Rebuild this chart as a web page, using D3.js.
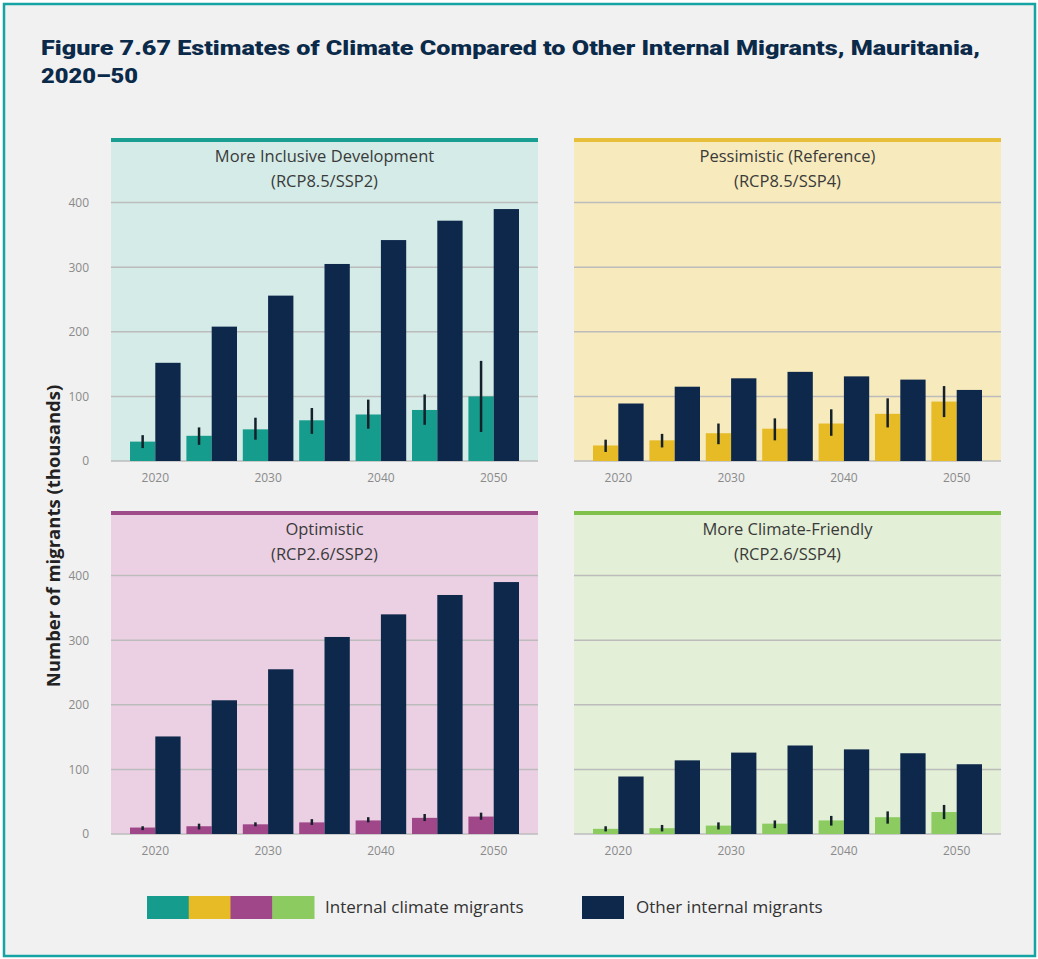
<!DOCTYPE html>
<html><head><meta charset="utf-8">
<script src="https://cdn.jsdelivr.net/npm/d3@7"></script>
<style>
html,body{margin:0;padding:0;background:#fff;}
svg{display:block;}
</style></head>
<body>
<svg id="chart" width="1038" height="959"></svg>
<script>
// ---------------- DATA ----------------
const years = [2020, 2025, 2030, 2035, 2040, 2045, 2050];
const xTickYears = [2020, 2030, 2040, 2050];
const yTicks = [0, 100, 200, 300, 400];

const panelTitles = [
  ["More Inclusive Development", "(RCP8.5/SSP2)"],
  ["Pessimistic (Reference)", "(RCP8.5/SSP4)"],
  ["Optimistic", "(RCP2.6/SSP2)"],
  ["More Climate-Friendly", "(RCP2.6/SSP4)"]
];

// Internal climate migrants (thousands), with error ranges
const climate1 = [30, 39, 49, 63, 72, 79, 100];
const climate1Low = [20, 25, 33, 42, 50, 56, 45];
const climate1High = [40, 52, 67, 82, 95, 103, 155];
const other1 = [152, 208, 256, 305, 342, 372, 390];

const climate2 = [24, 32, 43, 50, 58, 73, 92];
const climate2Low = [14, 21, 26, 32, 39, 52, 68];
const climate2High = [33, 42, 58, 66, 80, 97, 116];
const other2 = [89, 115, 128, 138, 131, 126, 110];

const climate3 = [10, 12, 15, 18, 21, 25, 27];
const climate3Low = [6, 7, 12, 14, 18, 20, 22];
const climate3High = [12, 16, 18, 23, 26, 31, 33];
const other3 = [151, 207, 255, 305, 340, 370, 390];

const climate4 = [8, 9, 13, 16, 21, 26, 34];
const climate4Low = [4, 4, 7, 9, 13, 16, 23];
const climate4High = [12, 14, 18, 21, 28, 35, 45];
const other4 = [89, 114, 126, 137, 131, 125, 108];

const legendLabels = ["Internal climate migrants", "Other internal migrants"];

// ---------------- STYLE ----------------
const climateColors = ["#169c8c", "#e6bb26", "#a0478a", "#8ccb60"];
const bgColors = ["#d4ebe7", "#f7eabd", "#ebd0e3", "#e3efd6"];
const topBarColors = ["#1a9e91", "#e8bf3a", "#9f4a89", "#7fc14b"];
const navy = "#0d284b";

const panels = [
  {L: 111, T: 138, climate: climate1, low: climate1Low, high: climate1High, other: other1, yLabels: true},
  {L: 574, T: 138, climate: climate2, low: climate2Low, high: climate2High, other: other2, yLabels: false},
  {L: 111, T: 511, climate: climate3, low: climate3Low, high: climate3High, other: other3, yLabels: true},
  {L: 574, T: 511, climate: climate4, low: climate4Low, high: climate4High, other: other4, yLabels: false}
];
const W = 427, H = 323;
const font = "'Open Sans', 'Noto Sans', sans-serif";

const svg = d3.select("#chart");

// Frame
svg.append("rect").attr("x", 0).attr("y", 0).attr("width", 1038).attr("height", 959).attr("fill", "#ffffff");
svg.append("rect").attr("x", 4).attr("y", 4).attr("width", 1031).attr("height", 952)
  .attr("fill", "#f1f1f1").attr("stroke", "#16a3a3").attr("stroke-width", 2.5);

// Title
const title = svg.append("g").attr("fill", "#0b2a4a")
  .style("font-family", "'Roboto', 'Liberation Sans', sans-serif").style("font-weight", 900).style("font-size", "21px");
title.append("text").attr("x", 41).attr("y", 55)
  .attr("textLength", 939).attr("lengthAdjust", "spacingAndGlyphs")
  .text("Figure 7.67 Estimates of Climate Compared to Other Internal Migrants, Mauritania,");
title.append("text").attr("x", 41).attr("y", 83)
  .attr("textLength", 97).attr("lengthAdjust", "spacingAndGlyphs")
  .text("2020–50");

// Panels
panels.forEach((p, i) => {
  const g = svg.append("g").attr("transform", `translate(${p.L},${p.T})`);
  const y = d3.scaleLinear().domain([0, 500]).range([H, 0]);
  const x = d3.scaleBand().domain(years).range([19, W - 19]).paddingInner(0.103).paddingOuter(0);
  const xs = d3.scaleBand().domain(["climate", "other"]).range([0, x.bandwidth()]);

  g.append("rect").attr("x", 0).attr("y", 0).attr("width", W).attr("height", H).attr("fill", bgColors[i]);

  // gridlines
  g.append("g").selectAll("line").data(yTicks).join("line")
    .attr("x1", 0).attr("x2", W)
    .attr("y1", d => y(d)).attr("y2", d => y(d))
    .attr("stroke", "#bcbcbc").attr("stroke-width", 1.5);

  // top bar
  g.append("rect").attr("x", 0).attr("y", 0).attr("width", W).attr("height", 4).attr("fill", topBarColors[i]);

  // panel title
  const pt = g.append("g").attr("fill", "#3a3a3a").style("font-family", font).style("font-size", "16.5px")
    .attr("text-anchor", "middle");
  pt.append("text").attr("x", W / 2).attr("y", 24).text(panelTitles[i][0]);
  pt.append("text").attr("x", W / 2).attr("y", 49).text(panelTitles[i][1]);

  // bars
  const groups = g.append("g").selectAll("g").data(years).join("g")
    .attr("transform", d => `translate(${x(d)},0)`);
  groups.append("rect")
    .attr("x", xs("climate")).attr("width", xs.bandwidth())
    .attr("y", (d, j) => y(p.climate[j])).attr("height", (d, j) => y(0) - y(p.climate[j]))
    .attr("fill", climateColors[i]);
  groups.append("rect")
    .attr("x", xs("other")).attr("width", xs.bandwidth())
    .attr("y", (d, j) => y(p.other[j])).attr("height", (d, j) => y(0) - y(p.other[j]))
    .attr("fill", navy);
  groups.append("line")
    .attr("x1", xs("climate") + xs.bandwidth() / 2).attr("x2", xs("climate") + xs.bandwidth() / 2)
    .attr("y1", (d, j) => y(p.low[j])).attr("y2", (d, j) => y(p.high[j]))
    .attr("stroke", "#14202a").attr("stroke-width", 2.5);

  // x axis labels
  const xa = g.append("g").attr("transform", `translate(0,${H})`)
    .call(d3.axisBottom(x).tickValues(xTickYears).tickSize(0).tickPadding(12).tickFormat(d3.format("d")));
  xa.select(".domain").remove();
  xa.selectAll("text").attr("fill", "#8a8a8a").style("font-family", font).style("font-size", "12px");

  if (p.yLabels) {
    const ya = g.append("g").attr("transform", "translate(-20,0)")
      .call(d3.axisLeft(y).tickValues(yTicks).tickSize(0).tickPadding(2));
    ya.select(".domain").remove();
    ya.selectAll("text").attr("fill", "#8a8a8a").style("font-family", font).style("font-size", "12px");
  }
});

// Y axis title
svg.append("text").attr("transform", "translate(60,536) rotate(-90)")
  .attr("text-anchor", "middle").attr("fill", "#222")
  .style("font-family", font).style("font-weight", 700).style("font-size", "18.5px")
  .text("Number of migrants (thousands)");

// Legend
const lg = svg.append("g");
const swX = d3.scaleBand().domain(d3.range(4)).range([147, 314]);
lg.selectAll("rect.sw").data(climateColors).join("rect").attr("class", "sw")
  .attr("x", (d, k) => swX(k)).attr("y", 896).attr("width", swX.bandwidth() + 0.5).attr("height", 23)
  .attr("fill", d => d);
lg.append("text").attr("x", 325).attr("y", 913).attr("fill", "#333")
  .style("font-family", font).style("font-size", "17px").text(legendLabels[0]);
lg.append("rect").attr("x", 582).attr("y", 896).attr("width", 42).attr("height", 23).attr("fill", navy);
lg.append("text").attr("x", 636).attr("y", 913).attr("fill", "#333")
  .style("font-family", font).style("font-size", "17px").text(legendLabels[1]);
</script>
</body></html>
